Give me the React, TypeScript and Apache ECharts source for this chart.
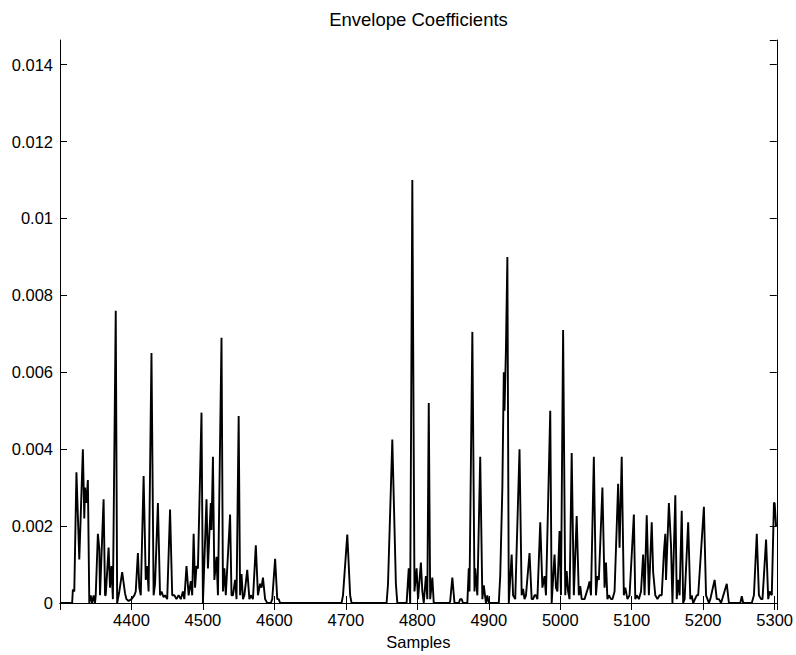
import React, { useEffect, useRef } from "react";
import * as echarts from "echarts";

const titleText = "Envelope Coefficients";
const xLabel = "Samples";
const xMin = 4300;
const xMax = 5303;
const yMax = 0.01464;

// sample index and envelope value pairs
const samples = [
  4300, 4317, 4318, 4320, 4323, 4327, 4332, 4334, 4335, 4337, 4339, 4341, 4343, 4345, 4347, 4349, 4350,
  4353, 4355, 4356, 4361, 4363, 4364, 4368, 4370, 4372, 4374, 4378, 4380, 4383, 4387, 4391, 4393, 4396,
  4400, 4404, 4406, 4409, 4411, 4413, 4417, 4420, 4422, 4424, 4428, 4431, 4433, 4437, 4440, 4442, 4445,
  4447, 4450, 4454, 4457, 4460, 4463, 4466, 4469, 4472, 4474, 4477, 4480, 4483, 4485, 4487, 4489, 4491,
  4493, 4498, 4500, 4505, 4507, 4509, 4511, 4512, 4514, 4516, 4519, 4521, 4526, 4528, 4530, 4532, 4538,
  4540, 4542, 4545, 4547, 4550, 4552, 4554, 4556, 4558, 4562, 4565, 4567, 4570, 4574, 4577, 4580, 4582,
  4584, 4587, 4590, 4595, 4597, 4601, 4604, 4606, 4608, 4694, 4696, 4702, 4706, 4708, 4757, 4759, 4765,
  4770, 4772, 4785, 4788, 4790, 4793, 4796, 4799, 4801, 4805, 4807, 4809, 4812, 4814, 4816, 4818, 4821,
  4823, 4845, 4846, 4849, 4852, 4858, 4860, 4862, 4864, 4870, 4872, 4873, 4877, 4880, 4881, 4884, 4888,
  4891, 4893, 4896, 4898, 4900, 4914, 4916, 4919, 4921, 4922, 4924, 4926, 4928, 4932, 4934, 4937, 4943,
  4946, 4948, 4950, 4952, 4957, 4960, 4962, 4964, 4966, 4968, 4972, 4975, 4978, 4980, 4986, 4988, 4992,
  4994, 4996, 4999, 5001, 5004, 5007, 5009, 5011, 5013, 5016, 5019, 5023, 5026, 5028, 5030, 5032, 5034,
  5039, 5041, 5043, 5047, 5050, 5052, 5054, 5059, 5062, 5064, 5066, 5068, 5071, 5073, 5076, 5081, 5083,
  5086, 5089, 5091, 5094, 5097, 5103, 5105, 5107, 5110, 5113, 5116, 5118, 5121, 5124, 5128, 5130, 5133,
  5136, 5139, 5142, 5145, 5147, 5148, 5152, 5155, 5157, 5161, 5163, 5165, 5167, 5170, 5172, 5174, 5179,
  5182, 5184, 5186, 5191, 5193, 5201, 5204, 5206, 5208, 5210, 5216, 5219, 5222, 5225, 5233, 5236, 5252,
  5254, 5256, 5268, 5271, 5275, 5278, 5281, 5283, 5288, 5291, 5293, 5296, 5299, 5300, 5302,
];

const envelope = [
  0, 0, 0.00035, 0.0003, 0.0034, 0.00113, 0.004, 0.0022, 0.003, 0.0026, 0.0032, 0, 0.0002, 0, 0.0002, 0, 0.0002,
  0.0018, 0.0014, 0.0002, 0.0027, 0.0002, 0.0002, 0.00144, 0.0004, 0.00096, 0.0001, 0.0076, 0, 0.0003, 0.0008, 0.00025, 0.0001, 0.00005,
  0.0001, 0.0002, 0.0003, 0.0013, 0.0004, 0.0002, 0.0033, 0.0006, 0.00096, 0.0003, 0.0065, 0.0002, 0.0005, 0.0026, 0.0002, 0.0003, 0.00015,
  0.0002, 0.0001, 0.00243, 0.0002, 0.0002, 0.0001, 0.0002, 0.0001, 0.0003, 0.0001, 0.00096, 0.0002, 0.00057, 0.0002, 0.0018, 0.0004, 0.00096,
  0.0009, 0.00495, 0, 0.0027, 0.0009, 0.0018, 0.0026, 0.0019, 0.0038, 0.0006, 0.0012, 0.0002, 0.0069, 0.0003, 0.0009, 0.0002, 0.0023,
  0.0002, 0.0002, 0.0006, 0.0001, 0.00486, 0.0002, 0.00075, 0.0001, 0.0002, 0.00086, 0.0001, 0.0002, 0.0001, 0.0015, 0.0002, 0.0005, 0.0004,
  0.00066, 0.0001, 0, 0, 0.0001, 0.00115, 0.0001, 0.0001, 0, 0, 0.0002, 0.00178, 0.0002, 0, 0, 0.0005, 0.00425,
  0.0005, 0, 0, 0.0009, 0, 0.011, 0.0003, 0.0009, 0.0001, 0.00105, 0.0003, 0, 0.0007, 0.0001, 0.0052, 0.0001, 0.00066,
  0, 0, 0.00005, 0.00066, 0, 0, 0.0001, 0.0001, 0, 0, 0.0009, 0.0003, 0.00705, 0.0003, 0.0009, 0.0002, 0.0038,
  0.0001, 0.00046, 0, 0.0002, 0, 0, 0.0007, 0.003, 0.006, 0.005, 0.0066, 0.009, 0, 0.00126, 0.0002, 0.0001, 0.004,
  0.0002, 0.00037, 0.0001, 0.0002, 0.0013, 0.0001, 0.0001, 0.0002, 0.0002, 0.0001, 0.0021, 0.0004, 0.0007, 0.0002, 0.005, 0, 0.00126,
  0.0004, 0.0003, 0.00187, 0.0002, 0.0071, 0.0002, 0.00083, 0.0003, 0.0001, 0.0039, 0.0002, 0.00226, 0.0002, 0.00044, 0.0001, 0.0001, 0.0001,
  0.0004, 0.00056, 0.0002, 0.0038, 0.0002, 0.0007, 0.0006, 0.003, 0.0004, 0.00105, 0.0001, 0.0002, 0.0001, 0.0001, 0.0003, 0.0031, 0.00144,
  0.0038, 0.0002, 0.0004, 0.0001, 0.0002, 0.0023, 0.0001, 0.0002, 0.0001, 0.0003, 0.00126, 0.0002, 0.00228, 0.0002, 0.0021, 0.0008, 0.0002,
  0.0001, 0.0002, 0.0002, 0.0013, 0.0018, 0.0006, 0.0026, 0.0015, 0, 0.0028, 0.0001, 0.0006, 0.0002, 0.0024, 0, 0.0001, 0.0021,
  0.0001, 0.0002, 0, 0.0002, 0.0002, 0.0025, 0.0002, 0.0001, 0, 0.0001, 0.0006, 0.0001, 0.0001, 0, 0.0005, 0, 0,
  0.00018, 0, 0, 0.0002, 0.0018, 0.0002, 0.0001, 0.0001, 0.00165, 0.0001, 0.0003, 0.0002, 0.0026, 0.0026, 0.002,
];

const FONT = "'Liberation Sans', Arial, Helvetica, sans-serif";

export default function App() {
  const ref = useRef<HTMLDivElement>(null);
  useEffect(() => {
    if (!ref.current) return;
    const chart = echarts.init(ref.current, null, { renderer: "svg" });
    const data = samples.map((s, i) => [s, envelope[i]]);
    const tickStyle = { show: true, inside: true, length: 7, lineStyle: { color: "#000", width: 1 } };
    const lineStyle = { show: true, lineStyle: { color: "#000", width: 1 } };
    const yFmt = (v: number) => {
      const k = v / 0.002;
      if (Math.abs(k - Math.round(k)) > 1e-6) return "";
      return String(parseFloat(v.toFixed(4)));
    };
    chart.setOption({
      animation: false,
      backgroundColor: "#fff",
      grid: { left: 60, right: 19, top: 40, bottom: 51, containLabel: false },
      graphic: [
        {
          type: "text",
          x: 418.5,
          y: 19.5,
          style: {
            text: titleText,
            font: `18.5px ${FONT}`,
            fill: "#000",
            textAlign: "center",
            textVerticalAlign: "middle",
          },
        },
      ],
      xAxis: [
        {
          type: "value",
          min: xMin,
          max: xMax,
          interval: 100,
          position: "bottom",
          axisLine: lineStyle,
          axisTick: tickStyle,
          splitLine: { show: false },
          axisLabel: {
            color: "#000",
            fontFamily: FONT,
            fontSize: 16.5,
            margin: 8,
            showMinLabel: false,
            showMaxLabel: false,
            formatter: (v: number) => (v % 100 === 0 ? String(v) : ""),
          },
          name: xLabel,
          nameLocation: "middle",
          nameGap: 30,
          nameTextStyle: { color: "#000", fontFamily: FONT, fontSize: 16.5 },
        },
        {
          type: "value",
          min: xMin,
          max: xMax,
          interval: 100,
          position: "top",
          axisLine: lineStyle,
          axisTick: tickStyle,
          splitLine: { show: false },
          axisLabel: { show: false },
        },
      ],
      yAxis: [
        {
          type: "value",
          min: 0,
          max: yMax,
          interval: 0.002,
          position: "left",
          axisLine: lineStyle,
          axisTick: tickStyle,
          splitLine: { show: false },
          axisLabel: {
            color: "#000",
            fontFamily: FONT,
            fontSize: 16.5,
            margin: 7,
            showMaxLabel: false,
            formatter: yFmt,
          },
        },
        {
          type: "value",
          min: 0,
          max: yMax,
          interval: 0.002,
          position: "right",
          axisLine: lineStyle,
          axisTick: tickStyle,
          splitLine: { show: false },
          axisLabel: { show: false },
        },
      ],
      series: [
        {
          type: "line",
          data,
          xAxisIndex: 0,
          yAxisIndex: 0,
          showSymbol: false,
          symbol: "none",
          lineStyle: { color: "#000", width: 1.9 },
          silent: true,
        },
      ],
    });
    return () => chart.dispose();
  }, []);
  return (
    <div
      ref={ref}
      style={{ position: "fixed", left: 0, top: 0, width: 796, height: 655, background: "#fff" }}
    />
  );
}
